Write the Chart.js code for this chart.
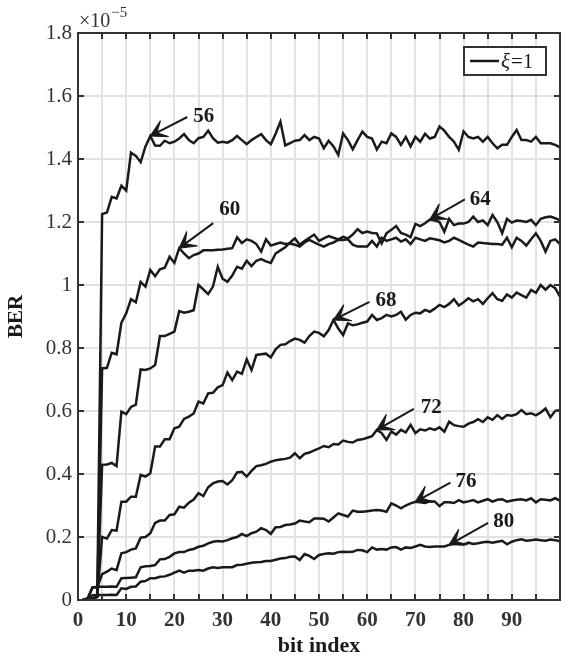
<!DOCTYPE html>
<html>
<head>
<meta charset="utf-8">
<script src="https://cdn.jsdelivr.net/npm/chart.js@4.4.1/dist/chart.umd.min.js"></script>
<style>
  html, body { margin: 0; padding: 0; background: #fff; }
  #wrap { width: 568px; height: 660px; }
</style>
</head>
<body>
<div id="wrap"><canvas id="c" width="568" height="660"></canvas></div>
<script>
// Bit positions 1..100 along the frame
const bitIndex = Array.from({ length: 100 }, (_, i) => i + 1);

// BER per bit, in units of 1e-5, one curve per word length
const ber56 = [
  0, 0, 0.005, 0.01, 1.225, 1.23, 1.28, 1.275, 1.315, 1.30,
  1.42, 1.41, 1.39, 1.44, 1.473, 1.443, 1.442, 1.458, 1.45, 1.455,
  1.465, 1.479, 1.46, 1.45, 1.466, 1.47, 1.49, 1.466, 1.452, 1.455,
  1.452, 1.46, 1.473, 1.46, 1.447, 1.46, 1.47, 1.479, 1.46, 1.447,
  1.48, 1.518, 1.443, 1.45, 1.458, 1.46, 1.476, 1.46, 1.47, 1.465,
  1.434, 1.458, 1.44, 1.413, 1.481, 1.46, 1.431, 1.46, 1.487, 1.47,
  1.465, 1.43, 1.455, 1.45, 1.481, 1.47, 1.445, 1.47, 1.44, 1.47,
  1.455, 1.48, 1.465, 1.47, 1.503, 1.49, 1.47, 1.455, 1.429, 1.488,
  1.47, 1.465, 1.47, 1.455, 1.47, 1.45, 1.434, 1.445, 1.445, 1.47,
  1.492, 1.46, 1.46, 1.455, 1.47, 1.45, 1.45, 1.45, 1.445, 1.437
];
const ber60 = [
  0, 0, 0.005, 0.01, 0.735, 0.737, 0.785, 0.78, 0.88, 0.91,
  0.955, 0.945, 1.01, 0.995, 1.048, 1.028, 1.05, 1.055, 1.09, 1.07,
  1.117, 1.1, 1.085, 1.095, 1.1, 1.11, 1.11, 1.11, 1.112, 1.113,
  1.115, 1.117, 1.151, 1.133, 1.145, 1.14, 1.13, 1.106, 1.145, 1.125,
  1.13, 1.135, 1.13, 1.132, 1.128, 1.122, 1.135, 1.143, 1.135, 1.128,
  1.122, 1.13, 1.135, 1.143, 1.143, 1.145, 1.128, 1.122, 1.122, 1.122,
  1.14, 1.122, 1.15, 1.14, 1.145, 1.15, 1.138, 1.145, 1.13, 1.15,
  1.145, 1.14, 1.148, 1.145, 1.142, 1.135, 1.14, 1.15, 1.143, 1.135,
  1.128, 1.122, 1.135, 1.133, 1.132, 1.13, 1.13, 1.128, 1.15, 1.12,
  1.15, 1.14, 1.125, 1.145, 1.164, 1.14, 1.106, 1.14, 1.145, 1.13
];
const ber64 = [
  0, 0, 0.005, 0.01, 0.429, 0.43, 0.435, 0.425, 0.598, 0.59,
  0.613, 0.62, 0.732, 0.73, 0.735, 0.746, 0.838, 0.838, 0.845, 0.852,
  0.917, 0.912, 0.915, 0.92, 1.0, 0.986, 0.971, 0.995, 1.058, 1.02,
  1.01, 1.03, 1.058, 1.052, 1.077, 1.06, 1.077, 1.082, 1.075, 1.07,
  1.1, 1.11, 1.12, 1.135, 1.148, 1.128, 1.14, 1.15, 1.16, 1.14,
  1.148, 1.155, 1.15, 1.145, 1.153, 1.148, 1.16, 1.177, 1.165, 1.17,
  1.165, 1.164, 1.132, 1.164, 1.175, 1.187, 1.165, 1.16, 1.152, 1.194,
  1.187, 1.196, 1.208, 1.205, 1.2, 1.169, 1.21, 1.19, 1.195, 1.195,
  1.2, 1.217, 1.2, 1.205, 1.19, 1.222, 1.2, 1.164, 1.21, 1.198,
  1.205, 1.203, 1.2, 1.207, 1.19, 1.21, 1.215, 1.217, 1.212, 1.205
];
const ber68 = [
  0, 0, 0.005, 0.01, 0.2, 0.195, 0.222, 0.22, 0.312, 0.312,
  0.328, 0.328, 0.397, 0.392, 0.402, 0.487, 0.487, 0.51, 0.51, 0.545,
  0.55, 0.575, 0.582, 0.592, 0.63, 0.624, 0.656, 0.658, 0.675, 0.682,
  0.722, 0.698, 0.725, 0.718, 0.764, 0.73, 0.778, 0.78, 0.782, 0.77,
  0.796, 0.81, 0.812, 0.822, 0.83, 0.826, 0.817, 0.838, 0.852, 0.848,
  0.837, 0.857, 0.889, 0.862, 0.841, 0.878, 0.872, 0.875, 0.88, 0.884,
  0.905, 0.889, 0.895, 0.905, 0.9, 0.905, 0.915, 0.89, 0.905, 0.912,
  0.91, 0.921, 0.915, 0.925, 0.937, 0.93, 0.94, 0.955, 0.935, 0.945,
  0.958, 0.948, 0.955, 0.94, 0.958, 0.974, 0.955, 0.95, 0.97, 0.96,
  0.976, 0.968, 0.96, 0.984, 0.975, 1.0, 0.985, 1.0, 0.99, 0.963
];
const ber72 = [
  0, 0.005, 0.04, 0.04, 0.082, 0.09, 0.1, 0.095, 0.148, 0.152,
  0.16, 0.164, 0.198, 0.2, 0.212, 0.245, 0.252, 0.252, 0.27, 0.272,
  0.296, 0.293, 0.309, 0.319, 0.339, 0.33, 0.358, 0.37, 0.376, 0.378,
  0.367, 0.38, 0.405, 0.407, 0.392, 0.41, 0.425, 0.428, 0.432, 0.439,
  0.444, 0.446, 0.448, 0.452, 0.466, 0.45, 0.464, 0.468, 0.475, 0.481,
  0.489, 0.485, 0.495, 0.494, 0.506, 0.502, 0.5, 0.508, 0.51, 0.515,
  0.52, 0.54, 0.53, 0.508, 0.535, 0.525, 0.54, 0.532, 0.556, 0.53,
  0.542, 0.538, 0.545, 0.54, 0.548, 0.534, 0.566, 0.555, 0.552, 0.55,
  0.56, 0.565, 0.574, 0.565, 0.58, 0.572, 0.587, 0.575, 0.587, 0.585,
  0.59, 0.603, 0.59, 0.593, 0.586, 0.595, 0.608, 0.58, 0.6, 0.603
];
const ber76 = [
  0, 0.005, 0.04, 0.042, 0.042, 0.042, 0.043, 0.042, 0.069, 0.07,
  0.071, 0.072, 0.104, 0.107, 0.108, 0.111, 0.129, 0.13, 0.137, 0.148,
  0.152, 0.152, 0.159, 0.162, 0.169, 0.172, 0.18, 0.185, 0.187, 0.186,
  0.19, 0.196, 0.2, 0.21, 0.203, 0.212, 0.217, 0.228, 0.222, 0.21,
  0.231, 0.232, 0.238, 0.24, 0.243, 0.252, 0.249, 0.247, 0.259, 0.259,
  0.258, 0.249, 0.262, 0.275, 0.27, 0.265, 0.284, 0.28, 0.28, 0.282,
  0.284, 0.286, 0.284, 0.28, 0.307, 0.3, 0.291, 0.3, 0.307, 0.312,
  0.31, 0.308, 0.313, 0.313, 0.298, 0.31, 0.31, 0.308, 0.317, 0.31,
  0.313, 0.317, 0.31, 0.315, 0.32, 0.312, 0.318, 0.32, 0.312, 0.316,
  0.318, 0.32, 0.316, 0.323, 0.31, 0.32, 0.318, 0.316, 0.323, 0.315
];
const ber80 = [
  0, 0.005, 0.015, 0.016, 0.016, 0.016, 0.017, 0.016, 0.037, 0.035,
  0.042, 0.043, 0.058, 0.06, 0.069, 0.069, 0.074, 0.075, 0.08, 0.087,
  0.093, 0.087, 0.093, 0.093, 0.095, 0.093, 0.1, 0.104, 0.102, 0.104,
  0.104, 0.104, 0.111, 0.112, 0.115, 0.118, 0.12, 0.121, 0.124, 0.124,
  0.128, 0.132, 0.133, 0.137, 0.138, 0.127, 0.146, 0.14, 0.13, 0.143,
  0.146, 0.148, 0.147, 0.152, 0.153, 0.152, 0.153, 0.159, 0.158, 0.152,
  0.167, 0.16, 0.162, 0.16, 0.167, 0.168, 0.16, 0.167, 0.165, 0.17,
  0.175, 0.17, 0.168, 0.17, 0.17, 0.17, 0.175, 0.18, 0.178, 0.176,
  0.182, 0.178, 0.18, 0.183, 0.185, 0.182, 0.185, 0.188, 0.177, 0.185,
  0.19, 0.193, 0.188, 0.19, 0.192, 0.19, 0.188, 0.192, 0.19, 0.186
];

const seriesNames = ['56', '60', '64', '68', '72', '76', '80'];
const seriesValues = [ber56, ber60, ber64, ber68, ber72, ber76, ber80];

// Axis ticks
const xGridValues = [0, 5, 10, 15, 20, 25, 30, 35, 40, 45, 50, 55, 60, 65, 70, 75, 80, 85, 90, 95, 100];
const xTickLabels = [0, 10, 20, 30, 40, 50, 60, 70, 80, 90];
const yTickValues = [0, 0.2, 0.4, 0.6, 0.8, 1.0, 1.2, 1.4, 1.6, 1.8];

// Callout arrows: which curve, which bit the arrow points at
const callouts = [
  { series: 0, bit: 15 },
  { series: 1, bit: 21 },
  { series: 2, bit: 73 },
  { series: 3, bit: 53 },
  { series: 4, bit: 62 },
  { series: 5, bit: 70 },
  { series: 6, bit: 77 }
];
// pixel offsets of arrow tails from their tips, and of labels from tails
const calloutLayout = [
  { dx: 37, dy: -19, lx: 6, ly: 0 },
  { dx: 34, dy: -25, lx: 6, ly: -14 },
  { dx: 35, dy: -20, lx: 5, ly: 0 },
  { dx: 36, dy: -18, lx: 6, ly: -1 },
  { dx: 37, dy: -21, lx: 7, ly: -1 },
  { dx: 35, dy: -19, lx: 5, ly: -1 },
  { dx: 39, dy: -22, lx: 5, ly: -1 }
];

const SERIF = '"Liberation Serif", "Times New Roman", serif';
const INK = '#1a1a1a';
const AXIS = '#333333';

Chart.defaults.font.family = SERIF;

// shaft plus a thin swept-back chevron head
function drawArrow(ctx, x0, y0, x1, y1) {
  const a = Math.atan2(y1 - y0, x1 - x0);
  const L = 18, phi = 29 * Math.PI / 180, notch = 0.4 * L;
  const bx1 = x1 - L * Math.cos(a - phi), by1 = y1 - L * Math.sin(a - phi);
  const bx2 = x1 - L * Math.cos(a + phi), by2 = y1 - L * Math.sin(a + phi);
  const nx = x1 - notch * Math.cos(a), ny = y1 - notch * Math.sin(a);
  ctx.lineWidth = 2;
  ctx.beginPath();
  ctx.moveTo(x0, y0);
  ctx.lineTo(x1 - 3 * Math.cos(a), y1 - 3 * Math.sin(a));
  ctx.stroke();
  ctx.beginPath();
  ctx.moveTo(x1, y1);
  ctx.lineTo(bx1, by1);
  ctx.lineTo(nx, ny);
  ctx.lineTo(bx2, by2);
  ctx.closePath();
  ctx.fill();
  ctx.lineWidth = 1.2;
  ctx.lineJoin = 'round';
  ctx.stroke();
  ctx.lineWidth = 2;
}

const framePlugin = {
  id: 'frame',
  afterDatasetsDraw(chart) {
    const { ctx, chartArea: ca, scales } = chart;
    const xs = scales.x, ys = scales.y;
    ctx.save();

    // callout arrows and labels
    ctx.strokeStyle = INK;
    ctx.fillStyle = INK;
    ctx.lineCap = 'butt';
    callouts.forEach((c, i) => {
      const lay = calloutLayout[i];
      const v = seriesValues[c.series][c.bit - 1];
      const tx = xs.getPixelForValue(c.bit), ty = ys.getPixelForValue(v);
      const sx = tx + lay.dx, sy = ty + lay.dy;
      drawArrow(ctx, sx, sy, tx, ty);
      ctx.font = 'bold 21px ' + SERIF;
      ctx.textAlign = 'left';
      ctx.textBaseline = 'middle';
      ctx.fillText(seriesNames[c.series], sx + lay.lx, sy + lay.ly);
    });

    // axes box
    ctx.strokeStyle = AXIS;
    ctx.lineWidth = 2;
    ctx.lineJoin = 'miter';
    ctx.strokeRect(ca.left, ca.top, ca.right - ca.left, ca.bottom - ca.top);

    // inward tick marks on all four sides
    const tl = 6;
    ctx.beginPath();
    xGridValues.forEach(v => {
      const px = Math.round(xs.getPixelForValue(v));
      ctx.moveTo(px, ca.bottom); ctx.lineTo(px, ca.bottom - tl);
      ctx.moveTo(px, ca.top); ctx.lineTo(px, ca.top + tl);
    });
    yTickValues.forEach(v => {
      const py = Math.round(ys.getPixelForValue(v));
      ctx.moveTo(ca.left, py); ctx.lineTo(ca.left + tl, py);
      ctx.moveTo(ca.right, py); ctx.lineTo(ca.right - tl, py);
    });
    ctx.stroke();

    // exponent note above the y axis
    ctx.fillStyle = AXIS;
    ctx.textAlign = 'left';
    ctx.textBaseline = 'alphabetic';
    ctx.font = '20px ' + SERIF;
    ctx.fillText('\u00d710', ca.left + 1, ca.top - 6);
    const w = ctx.measureText('\u00d710').width;
    ctx.font = '15px ' + SERIF;
    ctx.fillText('\u22125', ca.left + 1 + w + 1, ca.top - 16);

    // legend box
    const lx = ca.right - 96, ly = ca.top + 14, lw = 82, lh = 28;
    ctx.fillStyle = '#ffffff';
    ctx.fillRect(lx, ly, lw, lh);
    ctx.strokeStyle = AXIS;
    ctx.lineWidth = 2;
    ctx.strokeRect(lx, ly, lw, lh);
    ctx.strokeStyle = INK;
    ctx.lineWidth = 2.5;
    ctx.beginPath();
    ctx.moveTo(lx + 6, ly + lh / 2);
    ctx.lineTo(lx + 35, ly + lh / 2);
    ctx.stroke();
    ctx.fillStyle = INK;
    ctx.textBaseline = 'middle';
    ctx.font = 'italic 21px ' + SERIF;
    ctx.fillText('\u03be', lx + 37, ly + lh / 2 + 1);
    const xw = ctx.measureText('\u03be').width;
    ctx.font = '21px ' + SERIF;
    ctx.fillText('=1', lx + 37 + xw + 1, ly + lh / 2 + 1);

    ctx.restore();
  }
};

const datasets = seriesValues.map((vals, k) => ({
  label: seriesNames[k],
  data: bitIndex.map((b, i) => ({ x: b, y: vals[i] })),
  borderColor: INK,
  borderWidth: 2.5,
  pointRadius: 0,
  tension: 0,
  fill: false
}));

new Chart(document.getElementById('c'), {
  type: 'line',
  data: { datasets },
  options: {
    responsive: false,
    animation: false,
    devicePixelRatio: 1,
    layout: { padding: { top: 33, right: 4, bottom: 0, left: 0 } },
    plugins: { legend: { display: false }, tooltip: { enabled: false } },
    scales: {
      x: {
        type: 'linear',
        min: 0,
        max: 100,
        afterBuildTicks: s => { s.ticks = xGridValues.map(v => ({ value: v })); },
        afterFit: s => { s.height = 60; },
        grid: { color: '#e2e2e2', lineWidth: 2, drawTicks: false },
        border: { display: false },
        ticks: {
          autoSkip: false,
          maxRotation: 0,
          padding: 8,
          color: AXIS,
          font: { size: 21, weight: 'bold' },
          callback: v => xTickLabels.includes(v) ? String(v) : ''
        },
        title: {
          display: true,
          text: 'bit index',
          color: INK,
          font: { size: 22, weight: 'bold' },
          padding: { top: 0, bottom: 0 }
        }
      },
      y: {
        min: 0,
        max: 1.8,
        afterBuildTicks: s => { s.ticks = yTickValues.map(v => ({ value: v })); },
        afterFit: s => { s.width = 78; },
        grid: { color: '#e2e2e2', lineWidth: 2, drawTicks: false },
        border: { display: false },
        ticks: {
          padding: 6,
          color: AXIS,
          font: { size: 21 },
          callback: v => String(+v.toFixed(1))
        },
        title: {
          display: true,
          text: 'BER',
          color: INK,
          font: { size: 21, weight: 'bold' },
          padding: { top: 4, bottom: 0 }
        }
      }
    }
  },
  plugins: [framePlugin]
});
</script>
</body>
</html>
